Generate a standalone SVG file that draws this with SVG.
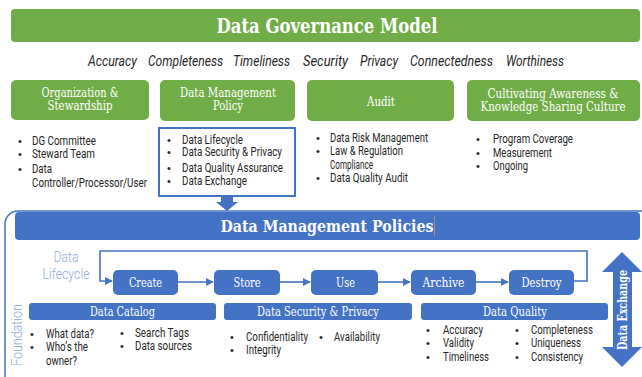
<svg xmlns="http://www.w3.org/2000/svg" width="642" height="377" viewBox="0 0 642 377">
<defs>
<style>
.g{fill:#70AD47}
.b{fill:#4472C4}
.slab{font-family:"DejaVu Serif","Liberation Serif",serif;fill:#fff}
.t{font-family:Roboto,"Liberation Sans",sans-serif;font-size:12px;fill:#262626}
.it{font-family:Roboto,"Liberation Sans",sans-serif;font-size:14px;font-style:italic;fill:#262626}
.lt{font-family:Roboto,"Liberation Sans",sans-serif;font-size:15px;font-weight:300;fill:#8FAADC}
.bul{font-family:"Liberation Sans",sans-serif;font-size:11px;fill:#262626}
.cn{fill:none;stroke:#4472C4;stroke-width:1.6}
</style>
<marker id="ah" viewBox="0 0 10 10" refX="9" refY="5" markerWidth="5" markerHeight="5" orient="auto" markerUnits="strokeWidth">
<path d="M0,0 L10,5 L0,10 z" fill="#4472C4"/>
</marker>
</defs>
<rect width="642" height="377" fill="#fff"/>

<g id="title">
<rect class="g" x="11" y="9" width="629" height="33" rx="4"/>
<text class="slab" x="327" y="33" font-size="20" font-weight="bold" text-anchor="middle" textLength="221" lengthAdjust="spacingAndGlyphs">Data Governance Model</text>
</g>

<g id="principles">
<text class="it" x="88" y="66" textLength="49" lengthAdjust="spacingAndGlyphs">Accuracy</text>
<text class="it" x="148" y="66" textLength="75" lengthAdjust="spacingAndGlyphs">Completeness</text>
<text class="it" x="233" y="66" textLength="57" lengthAdjust="spacingAndGlyphs">Timeliness</text>
<text class="it" x="303" y="66" textLength="45" lengthAdjust="spacingAndGlyphs">Security</text>
<text class="it" x="360" y="66" textLength="38" lengthAdjust="spacingAndGlyphs">Privacy</text>
<text class="it" x="410" y="66" textLength="83" lengthAdjust="spacingAndGlyphs">Connectedness</text>
<text class="it" x="506" y="66" textLength="58" lengthAdjust="spacingAndGlyphs">Worthiness</text>
</g>

<g id="org">
<rect class="g" x="11" y="80" width="138" height="40" rx="5"/>
<text class="slab" x="80" y="97" font-size="12.5" text-anchor="middle" textLength="77" lengthAdjust="spacingAndGlyphs">Organization &amp;</text>
<text class="slab" x="80" y="110" font-size="12.5" text-anchor="middle" textLength="65" lengthAdjust="spacingAndGlyphs">Stewardship</text>
<text class="bul" x="18" y="145">•</text><text class="t" x="32" y="145" textLength="64" lengthAdjust="spacingAndGlyphs">DG Committee</text>
<text class="bul" x="18" y="158">•</text><text class="t" x="32" y="158" textLength="63" lengthAdjust="spacingAndGlyphs">Steward Team</text>
<text class="bul" x="18" y="173">•</text><text class="t" x="32" y="173" textLength="20" lengthAdjust="spacingAndGlyphs">Data</text>
<text class="t" x="32" y="187" textLength="115" lengthAdjust="spacingAndGlyphs">Controller/Processor/User</text>
</g>

<g id="dmpolicy">
<rect class="g" x="160" y="80" width="135" height="41" rx="5"/>
<text class="slab" x="228" y="97" font-size="12.5" text-anchor="middle" textLength="96" lengthAdjust="spacingAndGlyphs">Data Management</text>
<text class="slab" x="228" y="110" font-size="12.5" text-anchor="middle" textLength="30" lengthAdjust="spacingAndGlyphs">Policy</text>
<rect x="159" y="128" width="136" height="68" fill="#fff" stroke="#4472C4" stroke-width="2"/>
<text class="bul" x="167" y="144">•</text><text class="t" x="182" y="144" textLength="61" lengthAdjust="spacingAndGlyphs">Data Lifecycle</text>
<text class="bul" x="167" y="156">•</text><text class="t" x="182" y="156" textLength="100" lengthAdjust="spacingAndGlyphs">Data Security &amp; Privacy</text>
<text class="bul" x="167" y="172">•</text><text class="t" x="182" y="172" textLength="101" lengthAdjust="spacingAndGlyphs">Data Quality Assurance</text>
<text class="bul" x="167" y="185">•</text><text class="t" x="182" y="185" textLength="65" lengthAdjust="spacingAndGlyphs">Data Exchange</text>
</g>

<g id="audit">
<rect class="g" x="307" y="80" width="147" height="41" rx="5"/>
<text class="slab" x="381" y="106" font-size="12.5" text-anchor="middle" textLength="28" lengthAdjust="spacingAndGlyphs">Audit</text>
<text class="bul" x="316" y="142">•</text><text class="t" x="330" y="142" textLength="98" lengthAdjust="spacingAndGlyphs">Data Risk Management</text>
<text class="bul" x="316" y="155">•</text><text class="t" x="330" y="155" textLength="73" lengthAdjust="spacingAndGlyphs">Law &amp; Regulation</text>
<text class="t" x="330" y="169" textLength="43" lengthAdjust="spacingAndGlyphs">Compliance</text>
<text class="bul" x="316" y="182">•</text><text class="t" x="330" y="182" textLength="78" lengthAdjust="spacingAndGlyphs">Data Quality Audit</text>
</g>

<g id="culture">
<rect class="g" x="467" y="80" width="173" height="41" rx="5"/>
<text class="slab" x="553" y="98" font-size="12" text-anchor="middle" textLength="131" lengthAdjust="spacingAndGlyphs">Cultivating Awareness &amp;</text>
<text class="slab" x="553" y="111" font-size="12" text-anchor="middle" textLength="145" lengthAdjust="spacingAndGlyphs">Knowledge Sharing Culture</text>
<text class="bul" x="476" y="143">•</text><text class="t" x="493" y="143" textLength="80" lengthAdjust="spacingAndGlyphs">Program Coverage</text>
<text class="bul" x="476" y="157">•</text><text class="t" x="493" y="157" textLength="59" lengthAdjust="spacingAndGlyphs">Measurement</text>
<text class="bul" x="476" y="170">•</text><text class="t" x="493" y="170" textLength="35" lengthAdjust="spacingAndGlyphs">Ongoing</text>
</g>

<g id="frame">
<rect x="5" y="211" width="650" height="180" rx="13" fill="none" stroke="#4472C4" stroke-width="1.5"/>
</g>

<g id="policies">
<rect class="b" x="15" y="212" width="625" height="28" rx="4"/>
<text class="slab" x="327" y="232" font-size="17" font-weight="bold" text-anchor="middle" textLength="213" lengthAdjust="spacingAndGlyphs">Data Management Policies</text>
<line x1="434.5" y1="216" x2="434.5" y2="236" stroke="#B49B6A" stroke-width="0.8"/>
</g>

<g id="lifecycle-label">
<text class="lt" x="66" y="262" text-anchor="middle" textLength="25" lengthAdjust="spacingAndGlyphs">Data</text>
<text class="lt" x="66" y="279" text-anchor="middle" textLength="47" lengthAdjust="spacingAndGlyphs">Lifecycle</text>
</g>

<g id="foundation-label">
<text class="lt" transform="translate(22,335) rotate(-90)" text-anchor="middle" textLength="62" lengthAdjust="spacingAndGlyphs">Foundation</text>
</g>

<g id="connectors">
<polygon class="b" points="221,196 233,196 233,202 238,202 227,211 216,202 221,202"/>
<polyline class="cn" points="574,281 587,281 587,251 100,251 100,281 112,281" marker-end="url(#ah)"/>
<line class="cn" x1="178" y1="282" x2="213" y2="282" marker-end="url(#ah)"/>
<line class="cn" x1="280" y1="282" x2="310" y2="282" marker-end="url(#ah)"/>
<line class="cn" x1="378" y1="282" x2="410" y2="282" marker-end="url(#ah)"/>
<line class="cn" x1="476" y1="282" x2="508" y2="282" marker-end="url(#ah)"/>
</g>

<g id="create">
<rect class="b" x="113" y="270" width="65" height="25" rx="5"/>
<text class="slab" x="145.5" y="287" font-size="13" text-anchor="middle" textLength="33" lengthAdjust="spacingAndGlyphs">Create</text>
</g>
<g id="store">
<rect class="b" x="214" y="270" width="66" height="25" rx="5"/>
<text class="slab" x="247" y="287" font-size="13" text-anchor="middle" textLength="27" lengthAdjust="spacingAndGlyphs">Store</text>
</g>
<g id="use">
<rect class="b" x="311" y="270" width="67" height="25" rx="5"/>
<text class="slab" x="345.5" y="287" font-size="13" text-anchor="middle" textLength="19" lengthAdjust="spacingAndGlyphs">Use</text>
</g>
<g id="archive">
<rect class="b" x="411" y="270" width="65" height="25" rx="5"/>
<text class="slab" x="443.5" y="287" font-size="13" text-anchor="middle" textLength="42" lengthAdjust="spacingAndGlyphs">Archive</text>
</g>
<g id="destroy">
<rect class="b" x="509" y="270" width="65" height="25" rx="5"/>
<text class="slab" x="541.5" y="287" font-size="13" text-anchor="middle" textLength="40" lengthAdjust="spacingAndGlyphs">Destroy</text>
</g>

<g id="catalog">
<rect class="b" x="29" y="303" width="187" height="17" rx="3"/>
<text class="slab" x="122.5" y="316" font-size="13" text-anchor="middle" textLength="65" lengthAdjust="spacingAndGlyphs">Data Catalog</text>
<text class="bul" x="30" y="338">•</text><text class="t" x="46" y="338" textLength="48" lengthAdjust="spacingAndGlyphs">What data?</text>
<text class="bul" x="30" y="351">•</text><text class="t" x="46" y="351" textLength="42" lengthAdjust="spacingAndGlyphs">Who’s the</text>
<text class="t" x="46" y="365" textLength="31" lengthAdjust="spacingAndGlyphs">owner?</text>
<text class="bul" x="120" y="337">•</text><text class="t" x="135" y="337" textLength="54" lengthAdjust="spacingAndGlyphs">Search Tags</text>
<text class="bul" x="120" y="350">•</text><text class="t" x="135" y="350" textLength="57" lengthAdjust="spacingAndGlyphs">Data sources</text>
</g>

<g id="security">
<rect class="b" x="224" y="303" width="188" height="17" rx="3"/>
<text class="slab" x="318" y="316" font-size="13" text-anchor="middle" textLength="122" lengthAdjust="spacingAndGlyphs">Data Security &amp; Privacy</text>
<text class="bul" x="230" y="341">•</text><text class="t" x="246" y="341" textLength="62" lengthAdjust="spacingAndGlyphs">Confidentiality</text>
<text class="bul" x="230" y="354">•</text><text class="t" x="246" y="354" textLength="35" lengthAdjust="spacingAndGlyphs">Integrity</text>
<text class="bul" x="319" y="341">•</text><text class="t" x="334" y="341" textLength="46" lengthAdjust="spacingAndGlyphs">Availability</text>
</g>

<g id="quality">
<rect class="b" x="421" y="303" width="187" height="17" rx="3"/>
<text class="slab" x="515" y="316" font-size="13" text-anchor="middle" textLength="64" lengthAdjust="spacingAndGlyphs">Data Quality</text>
<text class="bul" x="426" y="334">•</text><text class="t" x="443" y="334" textLength="40" lengthAdjust="spacingAndGlyphs">Accuracy</text>
<text class="bul" x="426" y="347">•</text><text class="t" x="443" y="347" textLength="31" lengthAdjust="spacingAndGlyphs">Validity</text>
<text class="bul" x="426" y="361">•</text><text class="t" x="443" y="361" textLength="46" lengthAdjust="spacingAndGlyphs">Timeliness</text>
<text class="bul" x="515" y="334">•</text><text class="t" x="531" y="334" textLength="62" lengthAdjust="spacingAndGlyphs">Completeness</text>
<text class="bul" x="515" y="347">•</text><text class="t" x="531" y="347" textLength="50" lengthAdjust="spacingAndGlyphs">Uniqueness</text>
<text class="bul" x="515" y="361">•</text><text class="t" x="531" y="361" textLength="52" lengthAdjust="spacingAndGlyphs">Consistency</text>
</g>

<g id="exchange">
<polygon class="b" points="622,252 642,272 632,272 632,347 642,347 622,367 602,347 613,347 613,272 602,272"/>
<text class="slab" transform="translate(627,310) rotate(-90)" font-size="13" font-weight="bold" text-anchor="middle" textLength="80" lengthAdjust="spacingAndGlyphs">Data Exchange</text>
</g>
</svg>
